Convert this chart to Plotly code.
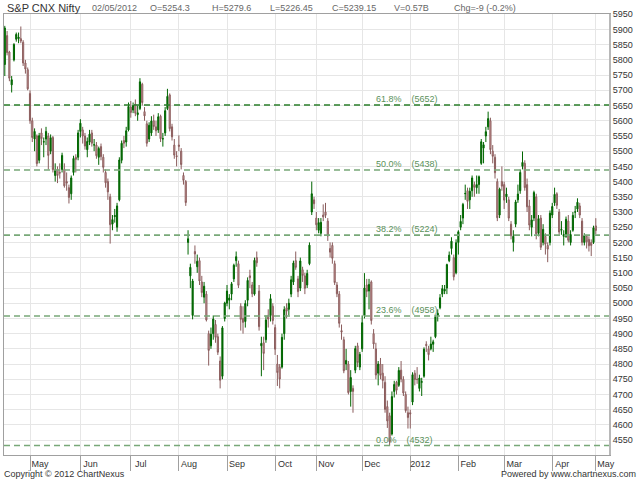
import plotly.graph_objects as go

# ---------------- data ----------------
apr11 = ["2011-04-%02d" % d for d in [13, 15, 18, 19, 20, 21, 25, 26, 27, 28, 29]]
may11 = ["2011-05-%02d" % d for d in [2, 3, 4, 5, 6, 9, 10, 11, 12, 13, 16, 17, 18, 19, 20, 23, 24, 25, 26, 27, 30, 31]]
jun11 = ["2011-06-%02d" % d for d in [1, 2, 3, 6, 7, 8, 9, 10, 13, 14, 15, 16, 17, 20, 21, 22, 23, 24, 27, 28, 29, 30]]
jul11 = ["2011-07-%02d" % d for d in [1, 4, 5, 6, 7, 8, 11, 12, 13, 14, 15, 18, 19, 20, 21, 22, 25, 26, 27, 28, 29]]
aug11 = ["2011-08-%02d" % d for d in [1, 2, 3, 4, 5, 8, 9, 10, 11, 12, 16, 17, 18, 19, 22, 23, 24, 25, 26, 29, 30]]
sep11 = ["2011-09-%02d" % d for d in [2, 5, 6, 7, 8, 9, 12, 13, 14, 15, 16, 19, 20, 21, 22, 23, 26, 27, 28, 29, 30]]
oct11 = ["2011-10-%02d" % d for d in [3, 4, 5, 7, 10, 11, 12, 13, 14, 17, 18, 19, 20, 21, 24, 25, 28, 31]]
nov11 = ["2011-11-%02d" % d for d in [1, 2, 3, 4, 8, 9, 11, 14, 15, 16, 17, 18, 21, 22, 23, 24, 25, 28, 29, 30]]
dec11 = ["2011-12-%02d" % d for d in [1, 2, 5, 7, 8, 9, 12, 13, 14, 15, 16, 19, 20, 21, 22, 23, 26, 27, 28, 29, 30]]
jan12 = ["2012-01-%02d" % d for d in [2, 3, 4, 5, 6, 9, 10, 11, 12, 13, 16, 17, 18, 19, 20, 23, 24, 25, 27, 30, 31]]
feb12 = ["2012-02-%02d" % d for d in [1, 2, 3, 6, 7, 8, 9, 10, 13, 14, 15, 16, 17, 21, 22, 23, 24, 27, 28, 29]]
mar12 = ["2012-03-%02d" % d for d in [1, 2, 5, 6, 7, 9, 12, 13, 14, 15, 16, 19, 20, 21, 22, 23, 26, 27, 28, 29, 30]]
apr12 = ["2012-04-%02d" % d for d in [2, 3, 4, 9, 10, 11, 12, 13, 16, 17, 18, 19, 20, 23, 24, 25, 26, 27, 30]]
may12 = ["2012-05-02"]
dates = apr11 + may11 + jun11 + jul11 + aug11 + sep11 + oct11 + nov11 + dec11 + jan12 + feb12 + mar12 + apr12 + may12

opens = [
    5785, 5880, 5826, 5718, 5800, 5868, 5870, 5870, 5858, 5790, 5768,
    5690, 5600, 5540, 5550, 5470, 5560, 5530, 5540, 5550, 5500, 5545, 5420, 5440, 5430, 5440, 5440, 5400, 5380, 5360, 5430, 5480, 5480,
    5565, 5570, 5550, 5505, 5530, 5560, 5520, 5520, 5480, 5515, 5480, 5430, 5400, 5350, 5260, 5285, 5250, 5340, 5470, 5535, 5530, 5570,
    5645, 5635, 5655, 5620, 5640, 5720, 5630, 5590, 5540, 5560, 5600, 5580, 5570, 5615, 5540, 5560, 5640, 5685, 5580, 5520, 5485,
    5520, 5500, 5420, 5400, 5200, 5090, 4960, 5170, 5120, 5140, 5070, 5020, 5030, 4900, 4860, 4900, 4930, 4890, 4810, 4760, 4950,
    5000, 5010, 5030, 5080, 5140, 5130, 4990, 4950, 4940, 5010, 5090, 5060, 5030, 5150, 5040, 4860, 4870, 4880, 4960, 4960, 4990,
    4920, 4800, 4790, 4790, 4900, 4985, 4980, 5030, 5070, 5140, 5080, 5050, 5110, 5090, 5060, 5130, 5300, 5340,
    5280, 5240, 5230, 5290, 5300, 5270, 5180, 5190, 5130, 5060, 5030, 4910, 4880, 4800, 4800, 4710, 4720, 4780, 4860, 4790,
    4850, 4960, 5060, 5040, 5070, 4900, 4850, 4770, 4800, 4770, 4740, 4660, 4630, 4570, 4710, 4740, 4730, 4780, 4750, 4700, 4640,
    4640, 4675, 4770, 4750, 4720, 4740, 4760, 4865, 4850, 4850, 4865, 4890, 4960, 4985, 5030, 5040, 5050, 5140, 5180, 5150, 5100,
    5200, 5250, 5280, 5360, 5370, 5340, 5370, 5390, 5380, 5390, 5460, 5510, 5550, 5580, 5600, 5500, 5480, 5400, 5290, 5400,
    5390, 5350, 5340, 5260, 5200, 5260, 5340, 5370, 5450, 5460, 5390, 5320, 5250, 5280, 5350, 5230, 5280, 5200, 5220, 5190, 5200,
    5290, 5330, 5360, 5300, 5240, 5220, 5220, 5270, 5200, 5240, 5300, 5310, 5320, 5270, 5200, 5220, 5210, 5200, 5200,
    5254.3,
]
highs = [
    5912, 5895, 5830, 5747, 5855, 5890, 5890, 5910, 5865, 5800, 5775,
    5700, 5610, 5575, 5555, 5560, 5575, 5545, 5580, 5560, 5555, 5550, 5460, 5450, 5460, 5495, 5460, 5430, 5390, 5420, 5485, 5490, 5570,
    5605, 5580, 5560, 5545, 5570, 5570, 5540, 5530, 5515, 5525, 5490, 5440, 5410, 5360, 5290, 5310, 5330, 5480, 5535, 5550, 5580, 5660,
    5665, 5660, 5670, 5650, 5740, 5725, 5645, 5600, 5595, 5615, 5620, 5600, 5625, 5620, 5560, 5645, 5705, 5690, 5590, 5540, 5500,
    5552, 5510, 5430, 5405, 5240, 5130, 5080, 5190, 5160, 5150, 5090, 5070, 5040, 4910, 4920, 4960, 4945, 4900, 4825, 4925, 5005,
    5060, 5030, 5070, 5130, 5170, 5140, 5000, 4990, 5010, 5085, 5110, 5070, 5150, 5170, 5060, 4890, 4890, 4960, 4980, 5030, 5000,
    4930, 4830, 4800, 4900, 4990, 5000, 5015, 5090, 5140, 5170, 5090, 5150, 5120, 5100, 5110, 5200, 5400, 5350,
    5300, 5280, 5280, 5325, 5330, 5280, 5200, 5200, 5140, 5070, 5040, 4930, 4890, 4850, 4810, 4780, 4730, 4860, 4870, 4840,
    4960, 5099, 5080, 5080, 5075, 4915, 4870, 4810, 4820, 4800, 4760, 4680, 4640, 4710, 4745, 4745, 4790, 4810, 4760, 4710, 4660,
    4650, 4773, 4780, 4790, 4765, 4755, 4855, 4875, 4860, 4890, 4880, 4960, 4980, 5030, 5060, 5060, 5130, 5170, 5217, 5160, 5210,
    5240, 5290, 5330, 5390, 5380, 5380, 5420, 5400, 5420, 5420, 5540, 5530, 5580, 5630, 5610, 5520, 5490, 5410, 5380, 5450,
    5400, 5380, 5350, 5270, 5240, 5340, 5390, 5440, 5499, 5470, 5410, 5340, 5290, 5370, 5360, 5290, 5290, 5260, 5230, 5200, 5305,
    5330, 5380, 5365, 5310, 5270, 5240, 5285, 5290, 5240, 5300, 5320, 5345, 5330, 5280, 5230, 5225, 5220, 5210, 5255,
    5279.6,
]
lows = [
    5747, 5815, 5730, 5693, 5795, 5860, 5855, 5855, 5780, 5755, 5700,
    5590, 5530, 5500, 5450, 5460, 5520, 5480, 5520, 5440, 5490, 5430, 5400, 5395, 5410, 5430, 5380, 5370, 5328, 5340, 5420, 5430, 5470,
    5545, 5525, 5505, 5480, 5520, 5515, 5500, 5475, 5455, 5470, 5430, 5380, 5340, 5196, 5240, 5265, 5235, 5335, 5460, 5510, 5515, 5565,
    5610, 5625, 5615, 5600, 5635, 5650, 5600, 5515, 5530, 5550, 5570, 5550, 5560, 5530, 5515, 5550, 5635, 5565, 5535, 5475, 5450,
    5500, 5440, 5390, 5320, 5160, 5050, 4947, 5130, 5100, 5060, 5020, 5000, 4940, 4795, 4850, 4880, 4870, 4830, 4720, 4750, 4940,
    4990, 4980, 5010, 5070, 5120, 5050, 4910, 4900, 4920, 4990, 5050, 5020, 5025, 5120, 4910, 4760, 4780, 4870, 4920, 4940, 4930,
    4830, 4728, 4720, 4785, 4880, 4950, 4960, 5020, 5060, 5110, 5020, 5040, 5070, 5030, 5050, 5125, 5290, 5310,
    5240, 5230, 5220, 5270, 5280, 5205, 5150, 5130, 5060, 5020, 4920, 4880, 4770, 4780, 4700, 4660, 4640, 4770, 4790, 4780,
    4840, 4950, 5020, 4980, 4930, 4850, 4750, 4730, 4750, 4720, 4640, 4590, 4531, 4565, 4690, 4700, 4725, 4740, 4695, 4640, 4588,
    4588, 4665, 4730, 4735, 4710, 4695, 4755, 4840, 4812, 4845, 4840, 4885, 4940, 4980, 5020, 5030, 5030, 5135, 5160, 5075, 5095,
    5160, 5240, 5260, 5340, 5310, 5310, 5350, 5350, 5360, 5360, 5455, 5460, 5530, 5570, 5490, 5460, 5410, 5270, 5280, 5370,
    5310, 5330, 5270, 5210, 5170, 5250, 5330, 5360, 5440, 5370, 5300, 5240, 5220, 5270, 5210, 5220, 5175, 5190, 5160, 5135, 5190,
    5280, 5320, 5310, 5225, 5225, 5190, 5215, 5200, 5190, 5235, 5280, 5300, 5280, 5190, 5190, 5180, 5170, 5155, 5195,
    5226.45,
]
closes = [
    5905, 5824, 5740, 5735, 5851, 5884, 5875, 5862, 5790, 5770, 5705,
    5600, 5545, 5565, 5459, 5551, 5541, 5531, 5565, 5486, 5544, 5439, 5438, 5420, 5428, 5486, 5386, 5395, 5348, 5412, 5476, 5473, 5560,
    5592, 5550, 5517, 5532, 5556, 5526, 5521, 5485, 5509, 5482, 5447, 5396, 5366, 5258, 5275, 5288, 5320, 5471, 5526, 5526, 5567, 5647,
    5627, 5650, 5625, 5626, 5728, 5660, 5616, 5526, 5585, 5599, 5581, 5567, 5613, 5541, 5541, 5633, 5680, 5574, 5547, 5487, 5482,
    5516, 5456, 5404, 5331, 5212, 5118, 5073, 5162, 5138, 5073, 5035, 5056, 4945, 4845, 4898, 4948, 4888, 4839, 4747, 4919, 5001,
    5040, 5017, 5064, 5125, 5153, 5059, 4947, 4937, 4999, 5075, 5084, 5031, 5141, 5133, 4923, 4868, 4835, 4945, 4948, 5015, 4943,
    4849, 4772, 4751, 4888, 4979, 4974, 5000, 5077, 5132, 5118, 5038, 5139, 5091, 5049, 5098, 5191, 5360, 5327,
    5258, 5265, 5266, 5284, 5289, 5221, 5168, 5148, 5068, 5031, 4934, 4905, 4778, 4812, 4706, 4756, 4710, 4851, 4805, 4832,
    4936, 5050, 5039, 5062, 4943, 4866, 4764, 4800, 4763, 4746, 4651, 4613, 4544, 4693, 4733, 4714, 4779, 4750, 4705, 4647, 4624,
    4636, 4765, 4749, 4749, 4754, 4742, 4849, 4861, 4831, 4866, 4873, 4955, 4967, 5018, 5048, 5046, 5127, 5158, 5204, 5087, 5199,
    5235, 5269, 5325, 5361, 5335, 5368, 5412, 5381, 5390, 5416, 5531, 5521, 5564, 5607, 5505, 5483, 5429, 5281, 5375, 5385,
    5339, 5359, 5280, 5222, 5220, 5333, 5359, 5430, 5463, 5380, 5317, 5257, 5274, 5364, 5228, 5278, 5184, 5243, 5194, 5178, 5296,
    5318, 5358, 5322, 5234, 5243, 5226, 5276, 5207, 5226, 5289, 5300, 5332, 5290, 5200, 5222, 5202, 5189, 5190, 5248,
    5239.15,
]

month_ticks = ["2011-05-02", "2011-06-01", "2011-07-01", "2011-08-01", "2011-09-02", "2011-10-03",
               "2011-11-01", "2011-12-01", "2012-01-02", "2012-02-01", "2012-03-01", "2012-04-02", "2012-05-02"]
month_labels = ["May", "Jun", "Jul", "Aug", "Sep", "Oct", "Nov", "Dec", "2012", "Feb", "Mar", "Apr", "May"]

fib_pcts = ["61.8%", "50.0%", "38.2%", "23.6%", "0.0%"]
fib_levels = [5652, 5438, 5224, 4958, 4532]
fib_colors = ["#2a7d2a", "#78a878", "#78a878", "#78a878", "#78a878"]

header_texts = ["02/05/2012", "O=5254.3", "H=5279.6", "L=5226.45", "C=5239.15", "V=0.57B", "Chg=-9 (-0.2%)"]
header_px = [90, 148, 210, 268, 330, 392, 452]

# ---------------- figure ----------------
L, R, T, B = 4, 30, 14, 25
W, H = 640, 480
PW, PH = W - L - R, H - T - B


def px_x(px):
    return (px - L) / PW


def px_y(py):
    return (H - B - py) / PH


fig = go.Figure()
fig.add_trace(go.Candlestick(
    x=dates, open=opens, high=highs, low=lows, close=closes,
    increasing=dict(line=dict(color="#006600", width=1), fillcolor="#006600"),
    decreasing=dict(line=dict(color="#8a5c5c", width=1), fillcolor="#e3aaaa"),
    whiskerwidth=0,
    showlegend=False,
    hoverinfo="x+y",
))

shapes = []
annotations = []
for pct, lvl, col in zip(fib_pcts, fib_levels, fib_colors):
    shapes.append(dict(type="line", xref="paper", x0=0, x1=1, yref="y", y0=lvl, y1=lvl,
                       line=dict(color=col, width=1.6, dash="6px,4px"), layer="above"))
    annotations.append(dict(xref="paper", x=px_x(374), yref="y", y=lvl, xanchor="left", yanchor="bottom",
                            text=pct + "\u00a0\u00a0\u00a0\u00a0(" + str(lvl) + ")", showarrow=False,
                            font=dict(size=9, color="#5a905a"), yshift=-1))

# thicker right axis edge
shapes.append(dict(type="line", xref="paper", x0=1, x1=1, yref="paper", y0=0, y1=1,
                   line=dict(color="#b8b8b8", width=2)))

annotations.append(dict(xref="paper", yref="paper", x=px_x(5), y=px_y(8), xanchor="left", yanchor="middle",
                        text="S&P CNX Nifty", showarrow=False, font=dict(size=11, color="#333333")))
for t, p in zip(header_texts, header_px):
    annotations.append(dict(xref="paper", yref="paper", x=px_x(p), y=px_y(8), xanchor="left", yanchor="middle",
                            text=t, showarrow=False, font=dict(size=9, color="#666666")))
annotations.append(dict(xref="paper", yref="paper", x=px_x(2), y=px_y(474), xanchor="left", yanchor="middle",
                        text="Copyright © 2012 ChartNexus", showarrow=False, font=dict(size=9, color="#333333")))
annotations.append(dict(xref="paper", yref="paper", x=px_x(638), y=px_y(474), xanchor="right", yanchor="middle",
                        text="Powered by www.chartnexus.com", showarrow=False, font=dict(size=9, color="#333333")))

fig.update_layout(
    width=W, height=H,
    margin=dict(l=L, r=R, t=T, b=B),
    paper_bgcolor="white", plot_bgcolor="white",
    font=dict(family="Liberation Sans, Arial, sans-serif", size=9, color="#333333"),
    showlegend=False,
    shapes=shapes, annotations=annotations,
    xaxis=dict(
        type="category", range=[-0.35, 264.2],
        tickmode="array", tickvals=month_ticks, ticktext=month_labels,
        showgrid=True, gridcolor="#e6e6e6", gridwidth=1,
        ticks="outside", ticklen=15, tickcolor="#a0a0a0", tickwidth=1,
        ticklabelshift=10, ticklabelstandoff=-15,
        showline=True, linecolor="#a0a0a0", linewidth=1, mirror=True,
        rangeslider=dict(visible=False),
        tickfont=dict(size=9, color="#333333"),
        fixedrange=True,
    ),
    yaxis=dict(
        side="right", range=[4501, 5951], tick0=4550, dtick=50,
        showgrid=True, gridcolor="#e6e6e6", gridwidth=1,
        ticks="", showline=True, linecolor="#a0a0a0", linewidth=1, mirror=True,
        tickfont=dict(size=9, color="#333333"), zeroline=False,
        fixedrange=True,
    ),
)

fig.write_html("out.html", config={"displayModeBar": False},
               post_script="document.body.style.margin='0';document.body.style.overflow='hidden';")
